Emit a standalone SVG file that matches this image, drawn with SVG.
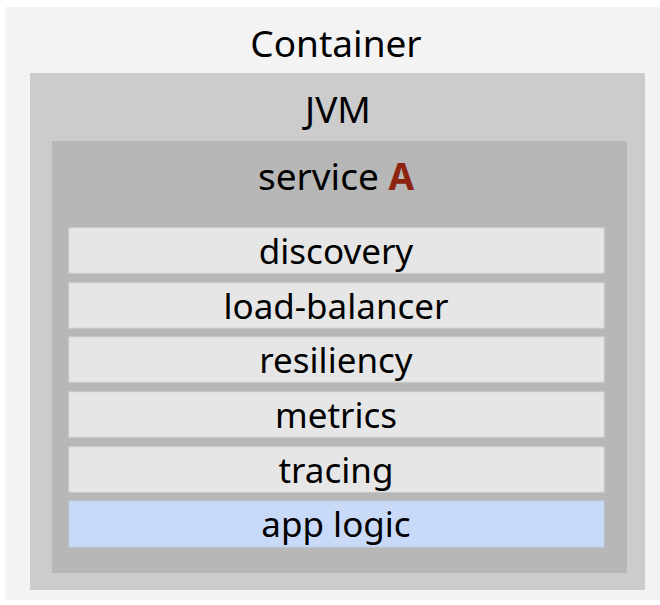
<svg xmlns="http://www.w3.org/2000/svg" width="660" height="605" viewBox="0 0 660 605">
<style>
text{font-family:"Noto Sans","Open Sans",sans-serif;fill:#000;text-anchor:middle}
.t{font-size:37px}
.r{font-size:35px}
.row{fill:#e6e6e6;stroke:#d9d9d9;stroke-width:1}
.app{fill:#c9daf8;stroke:#bfd0ee;stroke-width:1}
</style>
<rect width="660" height="605" fill="#fff"/>
<g id="container">
<rect x="5" y="7" width="655" height="593" fill="#f3f3f3"/>
<text class="t" x="336" y="57">Container</text>
</g>
<g id="jvm">
<rect x="30" y="73" width="615" height="517" fill="#cccccc"/>
<text class="t" x="338" y="123">JVM</text>
</g>
<g id="service">
<rect x="52" y="141" width="575" height="432" fill="#b7b7b7"/>
<text class="t" x="336" y="190">service <tspan fill="#8c2410" font-weight="bold">A</tspan></text>
</g>
<g id="discovery"><rect class="row" x="69" y="228" width="535" height="45"/><text class="r" x="336" y="264">discovery</text></g>
<g id="load-balancer"><rect class="row" x="69" y="283" width="535" height="45"/><text class="r" x="336" y="319">load-balancer</text></g>
<g id="resiliency"><rect class="row" x="69" y="337" width="535" height="45"/><text class="r" x="336" y="373">resiliency</text></g>
<g id="metrics"><rect class="row" x="69" y="392" width="535" height="45"/><text class="r" x="336" y="428">metrics</text></g>
<g id="tracing"><rect class="row" x="69" y="447" width="535" height="45"/><text class="r" x="336" y="483">tracing</text></g>
<g id="app-logic"><rect class="app" x="69" y="501" width="535" height="46"/><text class="r" x="336" y="537">app logic</text></g>
<g id="connectors"/>
</svg>
